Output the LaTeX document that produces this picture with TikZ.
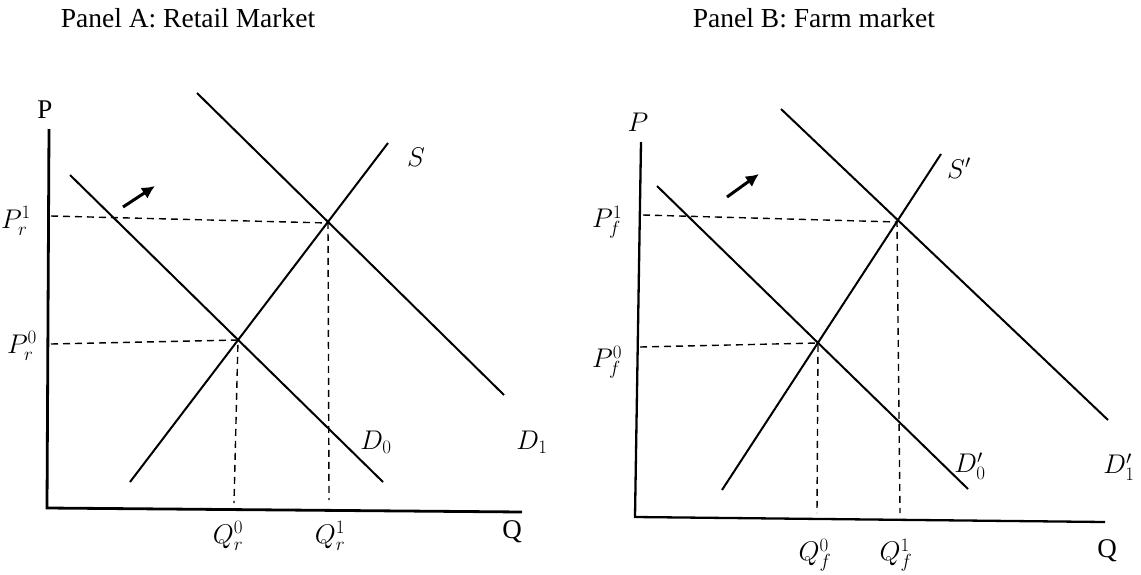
\RequirePackage{fix-cm}
\documentclass[tikz,border=0pt]{standalone}
\usepackage{fontspec}
\setmainfont{Liberation Serif}
\usetikzlibrary{arrows.meta}
\DeclareMathSizes{27}{27}{19}{14}
\begin{document}
\begin{tikzpicture}[x=1pt,y=-1pt,
  curve/.style={line width=2pt},
  axisA/.style={line width=2.8pt},
  axisB/.style={line width=2.3pt},
  guide/.style={line width=1.4pt, dash pattern=on 7pt off 5pt},
  shiftarrow/.style={line width=3pt, -{Latex[length=13pt,width=13pt]}},
  lbl/.style={font=\fontsize{27}{32}\selectfont, inner sep=0pt},
  title/.style={font=\fontsize{27.5}{32}\selectfont, inner sep=0pt, anchor=base}]
\useasboundingbox (0,0) rectangle (1141,574);

% ---------- Panel A ----------
\node[title] (tA) at (188,27) {Panel A: Retail Market};
\coordinate (Ayt) at (49,129);
\coordinate (Ao) at (47,508);
\coordinate (Axe) at (522,512);
\draw[axisA] (Ayt) -- (Ao) -- (Axe);
\node[lbl] (AP) at (45,110) {P};
\node[lbl] (AQ) at (512,532) {Q};

\coordinate (AD0s) at (70,175);
\coordinate (AD0e) at (383,482);
\coordinate (AD1s) at (197,93);
\coordinate (AD1e) at (504,395);
\coordinate (ASs) at (130,482);
\coordinate (ASe) at (388,143);
\coordinate (AE0) at (238,340);
\coordinate (AE1) at (328,223);
\coordinate (AP1) at (51,216);
\coordinate (AP0) at (51,344);
\coordinate (AQ0) at (234,503);
\coordinate (AQ1) at (329,500);

\draw[guide] (AP1) -- (AE1) -- (AQ1);
\draw[guide] (AP0) -- (AE0) -- (AQ0);
\draw[curve] (AD0s) -- (AD0e);
\draw[curve] (AD1s) -- (AD1e);
\draw[curve] (ASs) -- (ASe);

\coordinate (Aas) at (123,207);
\coordinate (Aae) at (155,186);
\draw[shiftarrow] (Aas) -- (Aae);

\node[lbl] (APr1) at (16,221) {$P_r^1$};
\node[lbl] (APr0) at (22,346) {$P_r^0$};
\node[lbl] (AQr0) at (228,536) {$Q_r^0$};
\node[lbl] (AQr1) at (330,536) {$Q_r^1$};
\node[lbl] (AS) at (416,157) {$S$};
\node[lbl] (ALD0) at (376,442) {$D_0$};
\node[lbl] (ALD1) at (532,442) {$D_1$};

% ---------- Panel B ----------
\node[title] (tB) at (814,27) {Panel B: Farm market};
\coordinate (Byt) at (641,142);
\coordinate (Bo) at (635,517);
\coordinate (Bxe) at (1105,522);
\draw[axisB] (Byt) -- (Bo) -- (Bxe);
\node[lbl] (BP) at (638,122) {$P$};
\node[lbl] (BQ) at (1107,551) {Q};

\coordinate (BD0s) at (657,186);
\coordinate (BD0e) at (968,489);
\coordinate (BD1s) at (781,109);
\coordinate (BD1e) at (1108,420);
\coordinate (BSs) at (722,490);
\coordinate (BSe) at (941,154);
\coordinate (BE0) at (818,343);
\coordinate (BE1) at (897,222);
\coordinate (BP1) at (643,215);
\coordinate (BP0) at (640,347);
\coordinate (BQ0) at (817,513);
\coordinate (BQ1) at (900,513);

\draw[guide] (BP1) -- (BE1) -- (BQ1);
\draw[guide] (BP0) -- (BE0) -- (BQ0);
\draw[curve] (BD0s) -- (BD0e);
\draw[curve] (BD1s) -- (BD1e);
\draw[curve] (BSs) -- (BSe);

\coordinate (Bas) at (727,197);
\coordinate (Bae) at (759,174);
\draw[shiftarrow] (Bas) -- (Bae);

\node[lbl] (BPf1) at (607,222) {$P_f^1$};
\node[lbl] (BPf0) at (607,362) {$P_f^0$};
\node[lbl] (BQf0) at (815,555) {$Q_f^0$};
\node[lbl] (BQf1) at (896,555) {$Q_f^1$};
\node[lbl] (BS) at (959,168) {$S'$};
\node[lbl] (BLD0) at (970,466) {$D_0'$};
\node[lbl] (BLD1) at (1119,467) {$D_1'$};
\end{tikzpicture}
\end{document}
